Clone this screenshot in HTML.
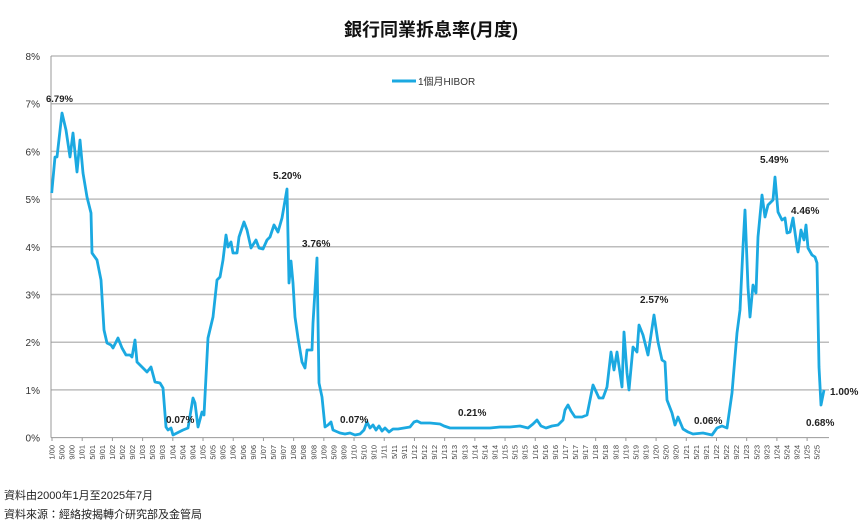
<!DOCTYPE html>
<html><head><meta charset="utf-8"><style>
html,body{margin:0;padding:0;background:#fff;}
svg{display:block;font-family:"Liberation Sans","Noto Sans CJK TC",sans-serif;}
</style></head><body>
<svg width="862" height="524" viewBox="0 0 862 524" xmlns="http://www.w3.org/2000/svg">
<rect width="862" height="524" fill="#fff"/>
<text x="431" y="36" text-anchor="middle" font-size="18" font-weight="bold" fill="#111">銀行同業拆息率(月度)</text>
<g stroke="#bdbdbd" stroke-width="1.5">
<line x1="51" y1="56" x2="829" y2="56"/>
<line x1="51" y1="103.7" x2="829" y2="103.7"/>
<line x1="51" y1="151.4" x2="829" y2="151.4"/>
<line x1="51" y1="199.1" x2="829" y2="199.1"/>
<line x1="51" y1="246.8" x2="829" y2="246.8"/>
<line x1="51" y1="294.5" x2="829" y2="294.5"/>
<line x1="51" y1="342.2" x2="829" y2="342.2"/>
<line x1="51" y1="389.9" x2="829" y2="389.9"/>
</g>
<line x1="51" y1="56" x2="51" y2="437.6" stroke="#999" stroke-width="1"/>
<line x1="51" y1="437.6" x2="829" y2="437.6" stroke="#999" stroke-width="1"/>
<g font-size="10" fill="#333" text-anchor="end">
<text x="40" y="60">8%</text><text x="40" y="107.7">7%</text><text x="40" y="155.4">6%</text>
<text x="40" y="203.1">5%</text><text x="40" y="250.8">4%</text><text x="40" y="298.5">3%</text>
<text x="40" y="346.2">2%</text><text x="40" y="393.9">1%</text><text x="40" y="441.6">0%</text>
</g>
<g id="ticks" stroke="#999" stroke-width="1"></g>
<g id="xl" font-size="7.5" fill="#444"></g>
<line x1="392" y1="81" x2="416" y2="81" stroke="#1ba9e1" stroke-width="3"/>
<text x="418" y="85" font-size="10" fill="#333">1個月HIBOR</text>
<polyline fill="none" stroke="#1ba9e1" stroke-width="2.8" stroke-linejoin="round" points="
51.7,193 55,157 57,157 62,113 66,130 70,157 73,133 77,172 80,140 83,173 87,197 91,213 92,253 97,260 101,280 104,330 107,343 111,345 113,348 118,338 122,348 126,355 130,355 132,357 135,340 137,362 143,368 147,372 151,367 155,382 160,383 163,388 166,427 168,430 171,428 173,435 177,433 183,430 188,428 193,398 195,403 198,427 202,412 204,415 208,338 213,317 217,280 220,277 223,260 226,235 228,247 231,242 233,253 237,253 239,237 244,222 247,230 251,248 256,240 259,248 263,249 267,240 270,237 274,225 278,232 282,218 287,189 289,283 291,261 293,283 295,317 298,338 302,362 305,368 307,350 312,350 313,323 317,258 319,383 322,397 325,427 328,425 331,422 333,430 340,433 345,434 350,433 355,435 360,434 364,430 367,422 370,428 373,425 376,430 379,426 382,431 385,428 389,432 393,429 398,429 404,428 410,427 414,422 417,421 421,423 430,423 440,424 444,426 450,428 470,428 490,428 500,427 510,427 520,426 528,428 533,424 537,420 541,426 546,428 552,426 558,425 563,420 565,410 568,405 571,411 575,417 582,417 587,415 593,385 599,398 603,398 607,387 611,352 614,370 617,352 622,387 624,332 627,373 629,390 633,347 637,352 639,325 643,335 648,355 654,315 658,342 662,360 665,362 667,400 672,413 675,425 678,417 683,429 688,432 693,434 703,433 712,435 717,428 722,426 727,428 732,393 737,333 740,310 743,247 745,210 748,287 750,317 753,285 756,293 758,237 762,195 765,217 768,205 773,200 775,177 778,212 782,220 785,218 787,233 790,232 793,218 797,247 798,252 801,230 804,240 806,225 808,248 812,255 815,257 817,263 819,367 821,405 824,390"/>
<g font-size="10" font-weight="bold" fill="#222">
<text x="46" y="102" font-size="9.5">6.79%</text>
<text x="273" y="179">5.20%</text>
<text x="302" y="247">3.76%</text>
<text x="166" y="423">0.07%</text>
<text x="340" y="423">0.07%</text>
<text x="458" y="416">0.21%</text>
<text x="640" y="303">2.57%</text>
<text x="694" y="424">0.06%</text>
<text x="760" y="163">5.49%</text>
<text x="791" y="214">4.46%</text>
<text x="830" y="395">1.00%</text>
<text x="806" y="426">0.68%</text>
</g>
<text x="4" y="499" font-size="11" fill="#222">資料由2000年1月至2025年7月</text>
<text x="4" y="518" font-size="11" fill="#222">資料來源：經絡按揭轉介研究部及金管局</text>
<script>
var t=document.getElementById('ticks'),xl=document.getElementById('xl'),ns='http://www.w3.org/2000/svg';
for(var y=0;y<=25;y++){var x=52+y*12*2.517;var l=document.createElementNS(ns,'line');l.setAttribute('x1',x);l.setAttribute('x2',x);l.setAttribute('y1',437.6);l.setAttribute('y2',441);t.appendChild(l);}
for(var i=0;i<77;i++){var m=i*4,x=52+m*2.517;var yy=Math.floor(m/12),mo=m%12+1;var s=mo+'/'+(yy<10?'0':'')+yy;var e=document.createElementNS(ns,'text');e.setAttribute('transform','translate('+(x+2.5)+',445) rotate(-90)');e.setAttribute('text-anchor','end');e.textContent=s;xl.appendChild(e);}
</script>
</svg>
</body></html>
